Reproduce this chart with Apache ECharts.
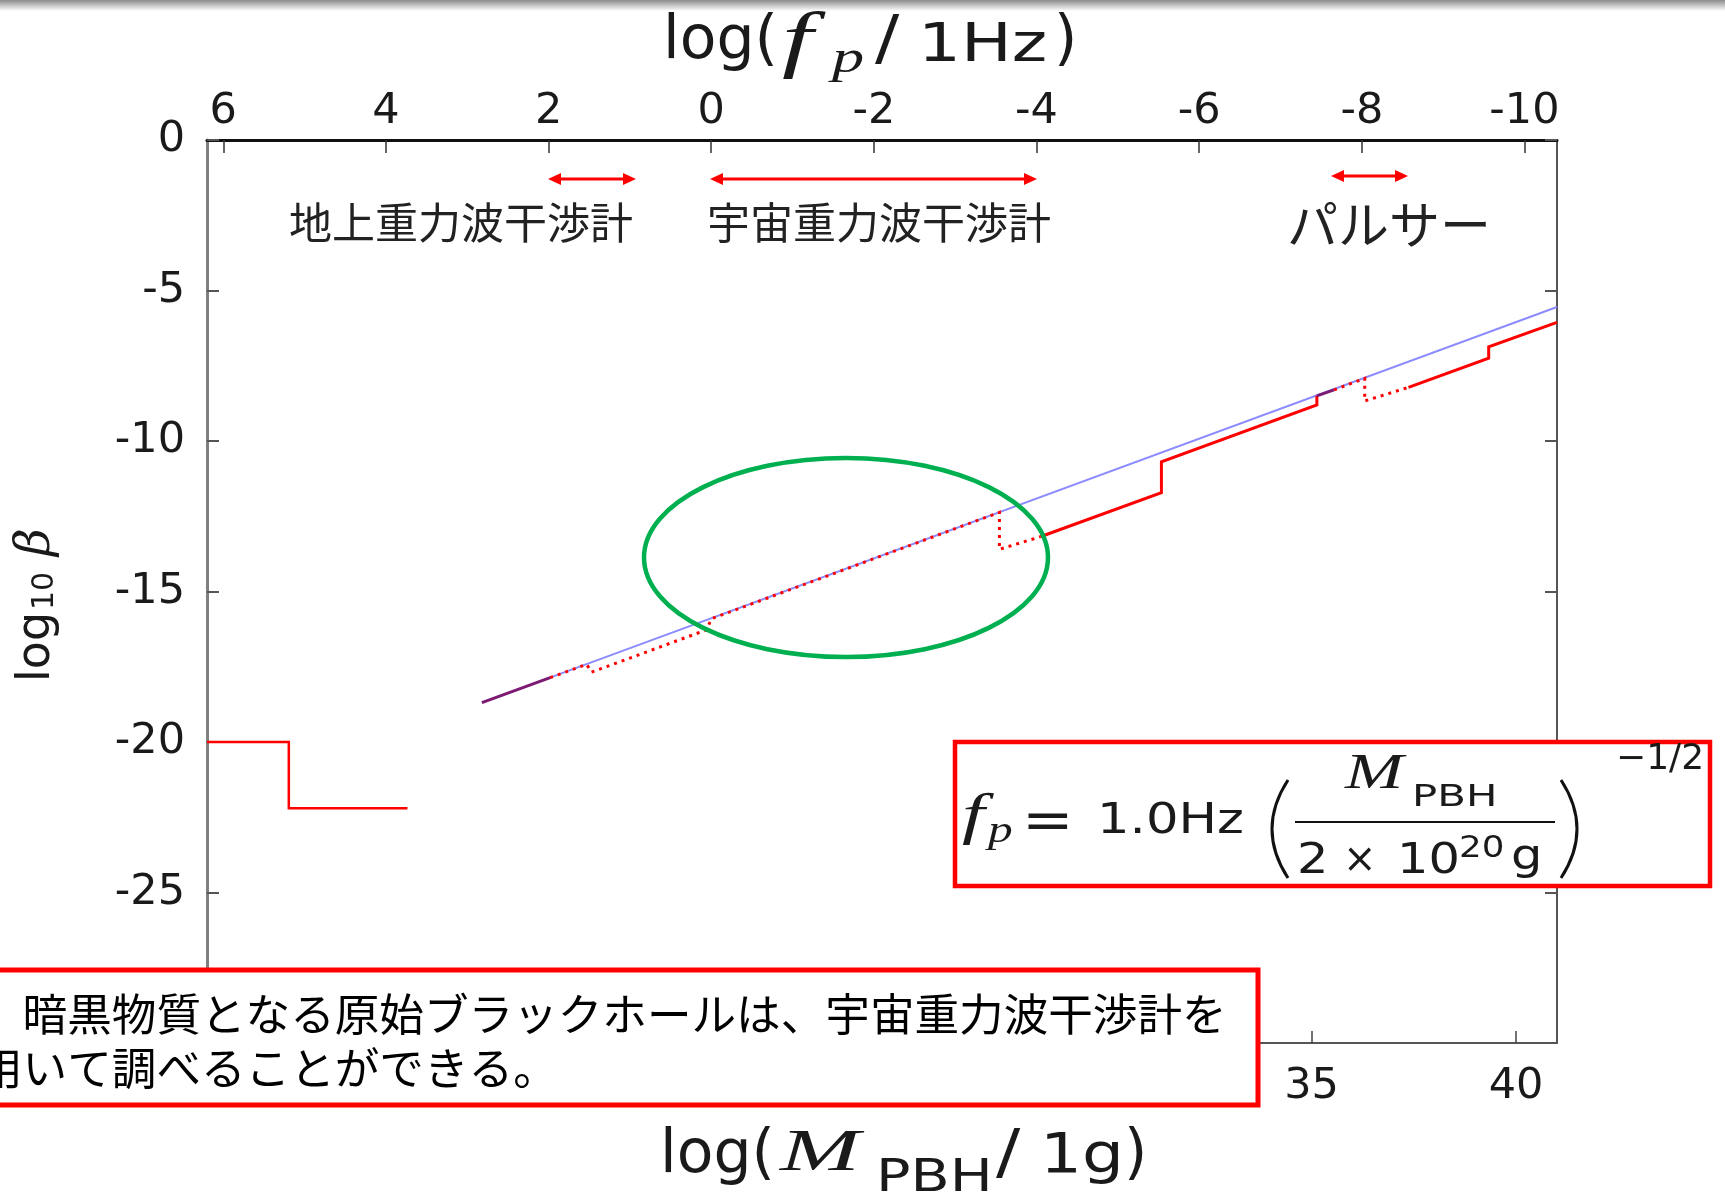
<!DOCTYPE html>
<html>
<head>
<meta charset="utf-8">
<script src="https://cdn.jsdelivr.net/npm/echarts@6/dist/echarts.min.js"></script>
<style>
html,body{margin:0;padding:0;background:#fff;}
#c{width:1725px;height:1198px;}
</style>
</head>
<body>
<div id="c"></div>
<script>
// ---- data (x = log(M_PBH/1g), y = log10 beta) ----
const blueLine      = [[14.72, -18.69], [41.0, -5.55]];
const redSolidLow   = [[8, -20], [10, -20], [10, -22.2], [12.9, -22.2]];
const redSolidMid   = [[28.37, -13.18], [31.33, -11.72], [31.33, -10.69], [35.13, -8.80], [35.13, -8.50]];
const redSolidHigh  = [[37.37, -8.22], [39.33, -7.25], [39.33, -6.87], [41.0, -6.06]];
const overlapLow    = [[14.72, -18.69], [16.39, -17.86]];
const overlapHigh   = [[35.13, -8.50], [35.55, -8.30]];
const redDottedLow  = [[16.39, -17.86], [17.28, -17.42], [17.40, -17.68], [20.20, -16.28], [20.34, -15.90], [27.37, -12.37], [27.37, -13.60], [28.37, -13.18]];
const redDottedHigh = [[35.55, -8.30], [36.30, -7.92], [36.30, -8.67], [37.37, -8.22]];

// tick labels
const bottomTicks = [10, 15, 20, 25, 30, 35, 40];
const topTicks    = [6, 4, 2, 0, -2, -4, -6, -8, -10];

// annotation texts
const labelGround = '地上重力波干渉計';
const labelSpace  = '宇宙重力波干渉計';
const labelPulsar = 'パルサー';
const noteLine1   = '\u3000暗黒物質となる原始ブラックホールは、宇宙重力波干渉計を';
const noteLine2   = '用いて調べることができる。';

const RED = '#ff0000';
const NUM_FONT = 'DejaVu Sans';
const JP_FONT = '"Noto Sans CJK JP", "Noto Sans CJK SC", sans-serif';

const chart = echarts.init(document.getElementById('c'), null, {renderer: 'canvas'});

function seg(data, color, width, type, z) {
  return {
    type: 'line', data: data, xAxisIndex: 0, yAxisIndex: 0,
    symbol: 'none', showSymbol: false, silent: true, animation: false, z: z,
    lineStyle: {color: color, width: width, type: type, cap: 'butt', join: 'miter'}
  };
}

function txt(x, y, text, size, family, opts) {
  opts = opts || {};
  return {
    type: 'text', x: x, y: y, z: 120, silent: true,
    scaleX: opts.scaleX || 1, rotation: opts.rotation || 0,
    style: {
      text: text, fontSize: size, fontFamily: family,
      fontStyle: opts.italic ? 'italic' : 'normal',
      fontWeight: opts.weight || 'normal',
      fill: opts.color || '#1a1a1a',
      align: opts.align || 'left', textAlign: opts.align || 'left',
      verticalAlign: 'middle', textVerticalAlign: 'middle'
    }
  };
}

function arrow(x1, x2, y) {
  const h = 13, w = 6;
  return [
    {type: 'line', z: 110, shape: {x1: x1 + 6, y1: y, x2: x2 - 6, y2: y}, style: {stroke: RED, lineWidth: 3}},
    {type: 'polygon', z: 110, shape: {points: [[x1, y], [x1 + h, y - w], [x1 + h, y + w]]}, style: {fill: RED}},
    {type: 'polygon', z: 110, shape: {points: [[x2, y], [x2 - h, y - w], [x2 - h, y + w]]}, style: {fill: RED}}
  ];
}

const axisLabelBase = {fontSize: 43, fontFamily: NUM_FONT, color: '#1a1a1a'};

const graphics = [
  // top grey band
  {type: 'rect', z: 1, shape: {x: 0, y: 0, width: 1725, height: 11},
   style: {fill: new echarts.graphic.LinearGradient(0, 0, 0, 1, [{offset: 0, color: '#8c8c8c'}, {offset: 1, color: '#ffffff'}])}},
  // top title log(f_p/1Hz)
  txt(663, 42, 'log(', 60, NUM_FONT),
  txt(782, 44, 'f', 74, 'Liberation Serif', {italic: true, scaleX: 1.5}),
  txt(832, 60, 'p', 46, 'Liberation Serif', {italic: true, scaleX: 1.4}),
  txt(875, 42, '/', 60, NUM_FONT, {scaleX: 1.2}),
  txt(918, 47, '1Hz', 54, NUM_FONT, {scaleX: 1.25}),
  txt(1054, 42, ')', 60, NUM_FONT),
  // bottom title log(M_PBH/1g)
  txt(660, 1156, 'log(', 60, NUM_FONT),
  txt(780, 1154, 'M', 60, 'Liberation Serif', {italic: true, scaleX: 1.6}),
  txt(876, 1180, 'PBH', 44, NUM_FONT, {scaleX: 1.3}),
  txt(996, 1156, '/', 60, NUM_FONT, {scaleX: 1.2}),
  txt(1040, 1157, '1g', 56, NUM_FONT, {scaleX: 1.18}),
  txt(1124, 1156, ')', 60, NUM_FONT),
  // y title log10 beta (rotated)
  {type: 'group', x: 37, y: 682, rotation: Math.PI / 2, z: 120, children: [
    txt(0, 0, 'log', 46, NUM_FONT),
    txt(72, 8, '10', 30, NUM_FONT),
    txt(126, 0, 'β', 48, 'DejaVu Serif', {italic: true})
  ]},
  // band labels
  txt(289, 223, labelGround, 43, JP_FONT, {color: '#222'}),
  txt(707, 223, labelSpace, 43, JP_FONT, {color: '#222'}),
  txt(1287, 225, labelPulsar, 51, JP_FONT, {color: '#222'})
].concat(arrow(548, 636, 179), arrow(710, 1037, 179), arrow(1331, 1408, 176)).concat([
  // green ellipse
  {type: 'ellipse', z: 115, shape: {cx: 846, cy: 557.5, rx: 202, ry: 99.5}, style: {fill: 'none', stroke: '#00b050', lineWidth: 4.5}},
  // formula box
  {type: 'rect', z: 115, shape: {x: 955, y: 742, width: 755, height: 144}, style: {fill: '#ffffff', stroke: RED, lineWidth: 4.5}},
  txt(962, 818, 'f', 58, 'Liberation Serif', {italic: true, scaleX: 1.4}),
  txt(988, 832, 'p', 38, 'Liberation Serif', {italic: true, scaleX: 1.3}),
  txt(1022, 824, '=', 56, NUM_FONT, {scaleX: 1.1}),
  txt(1097, 822, '1.0Hz', 42, NUM_FONT, {scaleX: 1.22}),
  {type: 'bezierCurve', z: 120, shape: {x1: 1288, y1: 780, x2: 1288, y2: 878, cpx1: 1256, cpy1: 829}, style: {fill: 'none', stroke: '#111', lineWidth: 3}},
  {type: 'bezierCurve', z: 120, shape: {x1: 1561, y1: 780, x2: 1561, y2: 878, cpx1: 1593, cpy1: 829}, style: {fill: 'none', stroke: '#111', lineWidth: 3}},
  txt(1345, 775, 'M', 50, 'Liberation Serif', {italic: true, scaleX: 1.4}),
  txt(1412, 798, 'PBH', 31, NUM_FONT, {scaleX: 1.35}),
  {type: 'line', z: 120, shape: {x1: 1295, y1: 822, x2: 1555, y2: 822}, style: {stroke: '#111', lineWidth: 2}},
  txt(1297, 862, '2', 43, NUM_FONT, {scaleX: 1.15}),
  txt(1343, 862, '×', 40, NUM_FONT),
  txt(1397, 862, '10', 43, NUM_FONT, {scaleX: 1.15}),
  txt(1459, 849, '20', 31, NUM_FONT, {scaleX: 1.15}),
  txt(1511, 858, 'g', 43, NUM_FONT, {scaleX: 1.15}),
  txt(1616, 760, '\u22121/2', 36, NUM_FONT),
  // bottom note box
  {type: 'rect', z: 115, shape: {x: -10, y: 970, width: 1268, height: 135}, style: {fill: '#ffffff', stroke: RED, lineWidth: 5}},
  txt(-22, 1014, noteLine1, 44.6, JP_FONT, {color: '#000'}),
  txt(-22, 1068, noteLine2, 44.6, JP_FONT, {color: '#000'})
]);

chart.setOption({
  animation: false,
  backgroundColor: '#ffffff',
  grid: {left: 207, right: 168, top: 140, bottom: 155, containLabel: false, outerBoundsMode: 'none'},
  xAxis: [
    {
      type: 'value', position: 'bottom', min: 8, max: 41,
      axisLine: {show: true, onZero: false, lineStyle: {color: '#555', width: 2}},
      axisTick: {show: true, inside: true, length: 12, customValues: bottomTicks, lineStyle: {color: '#444', width: 1.5}},
      axisLabel: Object.assign({customValues: bottomTicks, margin: 22}, axisLabelBase),
      splitLine: {show: false}
    },
    {
      type: 'value', position: 'top', min: -10.4, max: 6.2, inverse: true,
      axisLine: {show: true, onZero: false, lineStyle: {color: '#111', width: 3}},
      axisTick: {show: true, inside: true, length: 13, customValues: topTicks, lineStyle: {color: '#333', width: 1.5}},
      axisLabel: Object.assign({customValues: topTicks, margin: 7}, axisLabelBase),
      splitLine: {show: false}
    }
  ],
  yAxis: [
    {
      type: 'value', position: 'left', min: -30, max: 0, interval: 5,
      axisLine: {show: true, onZero: false, lineStyle: {color: '#808080', width: 3}},
      axisTick: {show: true, inside: true, length: 12, lineStyle: {color: '#555', width: 2}},
      axisLabel: Object.assign({margin: 22}, axisLabelBase),
      splitLine: {show: false}
    },
    {
      type: 'value', position: 'right', min: -30, max: 0, interval: 5,
      axisLine: {show: true, onZero: false, lineStyle: {color: '#555', width: 2}},
      axisTick: {show: true, inside: true, length: 12, lineStyle: {color: '#555', width: 2}},
      axisLabel: {show: false},
      splitLine: {show: false}
    }
  ],
  series: [
    seg(blueLine, '#8c8cff', 2, 'solid', 2),
    seg(redSolidLow, RED, 2.5, 'solid', 3),
    seg(redSolidMid, RED, 3, 'solid', 3),
    seg(redSolidHigh, RED, 3, 'solid', 3),
    seg(redDottedLow, RED, 3, [3, 5], 3),
    seg(redDottedHigh, RED, 3, [3, 5], 3),
    seg(overlapLow, '#7d1a72', 3, 'solid', 4),
    seg(overlapHigh, '#7d1a72', 3, 'solid', 4)
  ],
  graphic: {elements: graphics}
});
</script>
</body>
</html>
